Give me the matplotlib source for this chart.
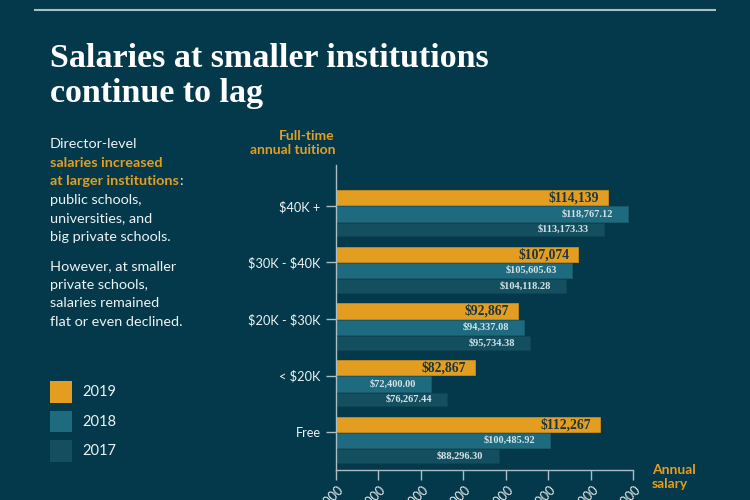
import matplotlib.pyplot as plt
from matplotlib.lines import Line2D
from matplotlib.patches import Rectangle

categories = ["$40K +", "$30K - $40K", "$20K - $30K", "< $20K", "Free"]
sal_2019 = [114139, 107074, 92867, 82867, 112267]
sal_2018 = [118767.12, 105605.63, 94337.08, 72400.00, 100485.92]
sal_2017 = [113173.33, 104118.28, 95734.38, 76267.44, 88296.30]
x_ticks = [50000, 60000, 70000, 80000, 90000, 100000, 110000, 120000]

BG = "#03394a"
ORANGE = "#e39e21"
C2018 = "#1e6a7e"
C2017 = "#144f5f"
AXIS = "#a9bec5"
WHITE = "#eef3f4"
SANS = "Lato"
SERIF = "Liberation Serif"

W, H = 750, 500
fig = plt.figure(figsize=(7.5, 5), dpi=100, facecolor=BG)

def fx(px):
    return px / W

def fy(py):
    return 1 - py / H

def esc(s):
    # keep dollar signs literal (no mathtext)
    return s.replace("$", r"\$")

# top rule
fig.add_artist(Line2D([fx(35), fx(715)], [fy(10), fy(10)], color=AXIS, lw=1.5))

# title
fig.text(fx(50), fy(67), "Salaries at smaller institutions", color="white",
         family=SERIF, weight="bold", fontsize=24.5, va="baseline")
fig.text(fx(50), fy(102), "continue to lag", color="white",
         family=SERIF, weight="bold", fontsize=24.5, va="baseline")

# side text
lines = [
    ("Director-level", WHITE, "normal", 148.3),
    ("salaries increased", ORANGE, "bold", 166.8),
    ("at larger institutions", ORANGE, "bold", 185.3),
    ("public schools,", WHITE, "normal", 203.8),
    ("universities, and", WHITE, "normal", 222.3),
    ("big private schools.", WHITE, "normal", 240.8),
    ("However, at smaller", WHITE, "normal", 270.3),
    ("private schools,", WHITE, "normal", 288.8),
    ("salaries remained", WHITE, "normal", 307.3),
    ("flat or even declined.", WHITE, "normal", 325.8),
]
colon_anchor = None
for txt, col, wt, yb in lines:
    t = fig.text(fx(50), fy(yb), txt, color=col, weight=wt, family=SANS,
                 fontsize=10.4, va="baseline")
    if txt == "at larger institutions":
        colon_anchor = t

# legend
years = ["2019", "2018", "2017"]
colors = [ORANGE, C2018, C2017]
for i, (yr, c) in enumerate(zip(years, colors)):
    top = 381 + i * 29.7
    fig.add_artist(Rectangle((fx(50), fy(top + 21.5)), fx(21.5), 21.5 / H,
                             facecolor=c, edgecolor="none"))
    fig.text(fx(82), fy(top + 10.8), yr, color=WHITE, family=SANS,
             fontsize=10.5, va="center")

# chart
ax = fig.add_axes([fx(335.7), fy(470), fx(633.3 - 335.7), (470 - 165) / H])
ax.set_facecolor(BG)
pos = list(range(len(categories)))
h = 0.27
ax.barh([p - 0.14 for p in pos], sal_2019, height=h, color=ORANGE,
        edgecolor="#c98a1a", lw=0.6)
ax.barh([p + 0.145 for p in pos], sal_2018, height=h, color=C2018,
        edgecolor="#1a5a6b", lw=0.6)
ax.barh([p + 0.42 for p in pos], sal_2017, height=0.24, color=C2017,
        edgecolor="#104453", lw=0.6)

for p, v in zip(pos, sal_2019):
    ax.annotate(esc("${:,.0f}".format(v)), xy=(v, p - 0.14), xytext=(-9, 0),
                textcoords="offset pixels", ha="right", va="center",
                family=SERIF, weight="bold", fontsize=9.8, color="#1c3640")
for p, v in zip(pos, sal_2018):
    ax.annotate(esc("${:,.2f}".format(v)), xy=(v, p + 0.145), xytext=(-15, 0),
                textcoords="offset pixels", ha="right", va="center",
                family=SERIF, weight="bold", fontsize=7.5, color="#d5e2e6")
for p, v in zip(pos, sal_2017):
    ax.annotate(esc("${:,.2f}".format(v)), xy=(v, p + 0.42), xytext=(-15, 0),
                textcoords="offset pixels", ha="right", va="center",
                family=SERIF, weight="bold", fontsize=7.5, color="#d5e2e6")

ax.set_xlim(50000, 120000)
ax.set_ylim(4.665, -0.72)
ax.set_yticks(pos)
ax.set_yticklabels([esc(c) for c in categories], family=SANS, fontsize=9.2,
                   color=WHITE)
ax.set_xticks(x_ticks)
ax.set_xticklabels([esc("${:,}".format(v)) for v in x_ticks], rotation=45,
                   ha="right", rotation_mode="anchor", family=SANS,
                   fontsize=9, color=WHITE)
ax.tick_params(axis="y", length=7, width=1, color=AXIS, pad=4)
ax.tick_params(axis="x", length=7, width=1, color=AXIS, pad=2)
for s in ["top", "right"]:
    ax.spines[s].set_visible(False)
for s in ["left", "bottom"]:
    ax.spines[s].set_color(AXIS)
    ax.spines[s].set_linewidth(1)

fig.text(fx(335), fy(143.4), "Full-time\nannual tuition", color=ORANGE,
         family=SANS, weight="bold", fontsize=10, ha="right", va="center",
         linespacing=1.2)
fig.text(fx(651.7), fy(477.5), "Annual\nsalary", color=ORANGE,
         family=SANS, weight="bold", fontsize=10, ha="left", va="center",
         linespacing=1.2)

# white colon after the orange phrase
fig.canvas.draw()
bb = colon_anchor.get_window_extent()
fig.text(bb.x1 / W, fy(185.3), ":", color=WHITE, family=SANS, fontsize=10.4,
         va="baseline")

fig.savefig("out.png", dpi=100, facecolor=BG)
